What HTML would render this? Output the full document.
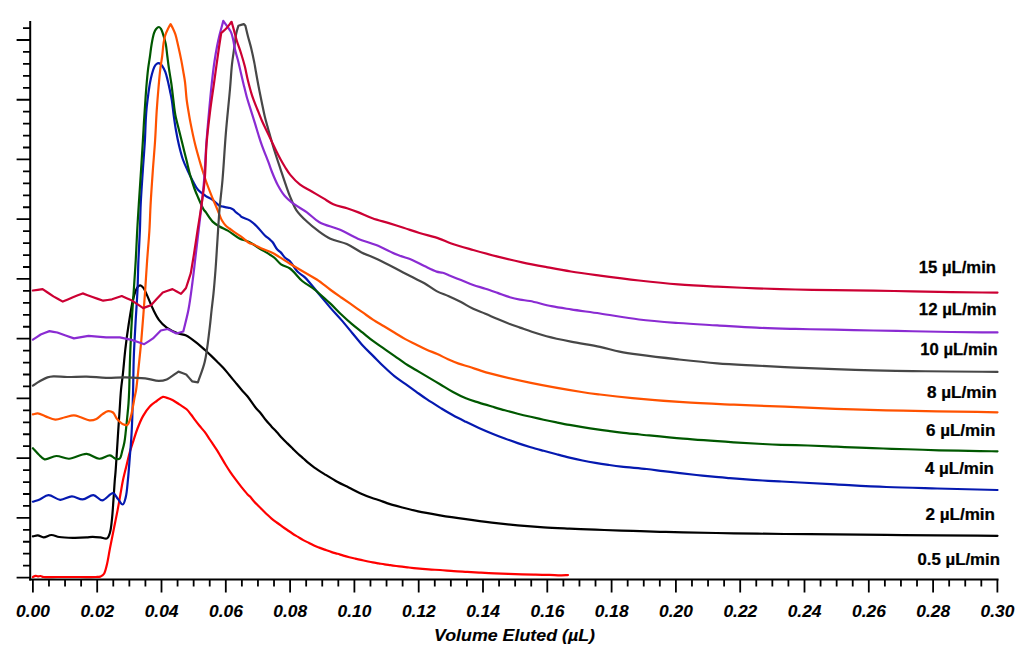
<!DOCTYPE html><html><head><meta charset="utf-8"><style>html,body{margin:0;padding:0;background:#fff;}svg{display:block;}text{font-family:"Liberation Sans",sans-serif;stroke:#000;stroke-width:0.25px;} text[font-style="italic"]{stroke-width:0.1px;}</style></head><body>
<svg width="1024" height="656" viewBox="0 0 1024 656">
<rect width="1024" height="656" fill="#fff"/>
<path d="M32.90,577.00C33.77,576.60 34.65,575.88 35.50,575.80C36.28,575.73 37.00,576.36 37.80,576.40C38.66,576.45 39.58,575.92 40.50,576.00C41.51,576.08 42.18,576.78 43.60,577.00C46.52,577.46 52.16,577.00 57.30,577.00C63.92,577.00 73.09,577.00 80.00,577.00C85.80,577.00 92.36,577.17 96.00,577.00C97.89,576.91 99.15,576.96 100.30,576.60C101.16,576.33 101.76,575.90 102.40,575.40C103.07,574.88 103.64,574.47 104.20,573.50C105.31,571.58 106.22,567.41 107.10,563.75C108.20,559.17 108.94,553.60 110.00,548.10C111.18,541.95 112.60,535.10 113.90,528.60C115.20,522.10 116.66,515.14 117.80,509.10C118.79,503.89 119.53,499.36 120.40,494.50C121.27,489.66 121.99,484.82 123.00,480.00C124.02,475.15 125.33,470.26 126.50,465.50C127.63,460.87 128.68,456.10 129.90,451.80C131.00,447.91 132.17,444.56 133.40,440.80C134.70,436.81 135.92,432.57 137.50,428.50C139.11,424.34 140.86,419.87 143.00,416.10C145.00,412.59 147.32,409.12 149.80,406.50C151.94,404.23 154.43,402.65 156.70,401.00C158.79,399.48 161.08,397.25 162.90,396.90C164.15,396.66 165.02,397.22 166.30,397.60C168.08,398.12 170.44,398.95 172.50,400.00C174.77,401.16 177.00,402.88 179.30,404.40C181.70,405.98 184.57,407.49 186.60,409.30C188.38,410.89 189.59,412.70 191.00,414.50C192.43,416.33 193.69,418.32 195.10,420.20C196.52,422.09 197.94,423.89 199.50,425.80C201.19,427.88 203.20,429.95 204.90,432.20C206.64,434.51 208.29,437.26 209.80,439.50C211.09,441.41 212.19,443.02 213.40,444.80C214.63,446.61 215.90,448.40 217.10,450.30C218.34,452.26 219.41,454.20 220.70,456.40C222.21,458.97 223.94,462.09 225.60,464.80C227.20,467.42 228.83,469.96 230.50,472.40C232.10,474.75 233.66,476.86 235.40,479.20C237.30,481.75 239.44,484.54 241.50,487.10C243.51,489.60 245.99,492.71 247.60,494.40C248.54,495.39 249.12,495.68 250.00,496.60C251.26,497.92 252.85,500.10 254.30,501.70C255.68,503.22 257.09,504.57 258.50,506.00C259.92,507.44 261.36,508.88 262.80,510.30C264.23,511.71 265.66,513.15 267.10,514.50C268.50,515.81 269.79,517.03 271.30,518.30C272.96,519.70 274.90,521.15 276.70,522.50C278.46,523.82 280.23,525.05 282.00,526.30C283.76,527.55 285.52,528.77 287.30,530.00C289.09,531.24 290.89,532.54 292.70,533.70C294.46,534.83 296.23,535.83 298.00,536.90C299.77,537.97 301.51,539.11 303.30,540.10C305.07,541.08 306.91,541.90 308.70,542.80C310.48,543.70 312.21,544.69 314.00,545.50C315.75,546.29 317.52,546.92 319.30,547.60C321.09,548.29 322.78,548.90 324.70,549.60C326.88,550.39 329.46,551.38 331.70,552.10C333.74,552.76 335.64,553.21 337.60,553.80C339.54,554.38 341.45,555.03 343.40,555.60C345.35,556.17 347.33,556.70 349.30,557.20C351.26,557.70 353.24,558.15 355.20,558.60C357.14,559.05 359.06,559.47 361.00,559.90C362.96,560.34 364.94,560.78 366.90,561.20C368.84,561.61 370.76,562.03 372.70,562.40C374.65,562.77 376.63,563.07 378.60,563.40C380.57,563.73 382.54,564.10 384.50,564.40C386.44,564.70 388.36,564.93 390.30,565.20C392.26,565.47 394.24,565.75 396.20,566.00C398.14,566.25 400.06,566.47 402.00,566.70C403.96,566.93 405.93,567.17 407.90,567.40C409.87,567.63 411.84,567.88 413.80,568.10C415.74,568.32 417.66,568.52 419.60,568.70C421.56,568.88 423.54,569.05 425.50,569.20C427.44,569.35 429.17,569.48 431.30,569.60C433.91,569.75 436.77,569.80 440.00,570.00C444.05,570.26 449.14,570.78 453.70,571.10C458.24,571.42 462.76,571.63 467.30,571.90C471.86,572.17 476.43,572.45 481.00,572.70C485.57,572.95 490.13,573.20 494.70,573.40C499.27,573.60 503.84,573.75 508.40,573.90C512.94,574.05 517.46,574.17 522.00,574.30C526.56,574.43 531.13,574.60 535.70,574.70C540.27,574.80 545.09,574.79 549.40,574.90C553.24,575.00 557.25,575.27 560.30,575.30C562.50,575.32 564.59,575.28 566.00,575.20C566.84,575.15 567.33,575.07 568.00,575.00" fill="none" stroke="#ff0000" stroke-width="2.2" stroke-linejoin="round" stroke-linecap="round"/>
<path d="M32.90,536.40C34.53,536.07 36.11,535.29 37.80,535.40C39.67,535.52 41.52,537.37 43.60,537.40C46.00,537.44 48.79,535.06 51.40,535.00C54.00,534.94 56.25,536.53 59.25,537.00C63.15,537.61 68.34,537.73 72.90,537.80C77.46,537.87 82.98,537.64 86.60,537.40C88.98,537.24 90.40,536.83 92.50,536.80C94.92,536.77 97.79,537.12 100.30,537.40C102.65,537.66 105.48,539.25 107.10,538.40C108.68,537.57 109.24,534.95 110.00,532.50C111.10,528.95 111.45,523.78 112.00,518.80C112.66,512.88 113.03,505.78 113.50,499.30C113.97,492.85 114.40,484.96 114.80,480.00C115.05,476.89 115.25,475.55 115.50,472.40C115.92,467.21 116.45,458.67 116.90,451.80C117.35,444.93 117.75,438.07 118.20,431.20C118.65,424.33 119.13,417.47 119.60,410.60C120.07,403.73 120.40,396.45 121.00,390.00C121.53,384.27 122.25,379.80 122.90,373.80C123.71,366.33 124.42,356.98 125.40,348.60C126.38,340.22 127.53,331.72 128.80,323.50C130.04,315.53 131.49,305.96 132.90,300.00C133.78,296.26 134.59,293.44 135.60,291.00C136.34,289.20 137.06,287.45 138.00,286.50C138.66,285.83 139.43,285.24 140.20,285.30C141.15,285.37 142.26,286.46 143.20,287.60C144.63,289.33 145.71,292.41 147.10,295.40C148.92,299.31 150.93,304.86 153.00,309.10C154.88,312.94 156.54,316.66 158.90,319.80C161.14,322.78 163.63,325.38 166.70,327.60C170.04,330.02 174.82,332.18 178.40,333.50C181.20,334.53 183.43,334.11 186.20,335.40C190.06,337.20 195.38,341.87 198.80,344.60C201.28,346.58 202.97,348.17 205.00,350.00C207.03,351.83 209.01,353.70 211.00,355.60C213.01,357.53 214.99,359.49 217.00,361.50C219.06,363.56 221.18,365.59 223.20,367.80C225.29,370.08 227.27,372.58 229.30,375.00C231.34,377.44 233.36,379.95 235.40,382.40C237.43,384.85 239.45,387.33 241.50,389.70C243.51,392.02 245.52,393.91 247.60,396.50C250.10,399.61 252.88,404.20 255.30,407.20C257.19,409.55 258.96,411.07 260.70,413.20C262.53,415.43 264.18,418.06 266.00,420.30C267.75,422.45 269.59,424.42 271.40,426.40C273.16,428.32 274.95,430.10 276.70,432.00C278.48,433.93 280.20,435.99 282.00,437.90C283.77,439.79 285.60,441.60 287.40,443.40C289.17,445.17 290.93,446.88 292.70,448.60C294.46,450.31 296.21,452.04 298.00,453.70C299.78,455.34 301.61,456.91 303.40,458.50C305.17,460.08 306.87,461.69 308.70,463.20C310.54,464.72 312.13,466.00 314.40,467.60C317.51,469.79 321.98,472.52 325.80,474.90C329.59,477.26 333.35,479.68 337.20,481.80C340.98,483.88 344.88,485.60 348.70,487.50C352.51,489.40 356.27,491.47 360.10,493.20C363.87,494.90 367.96,496.52 371.50,497.80C374.52,498.89 377.33,499.57 380.00,500.50C382.43,501.34 384.11,502.18 386.90,503.10C391.03,504.46 397.29,506.11 402.50,507.50C407.69,508.88 412.44,510.19 418.10,511.40C424.76,512.82 432.39,514.05 440.00,515.30C448.26,516.66 457.26,517.98 465.90,519.20C474.53,520.42 483.16,521.58 491.80,522.60C500.43,523.62 509.06,524.52 517.70,525.30C526.33,526.08 534.96,526.75 543.60,527.30C552.23,527.85 560.87,528.20 569.50,528.60C578.13,529.00 586.77,529.37 595.40,529.70C604.03,530.03 613.37,530.33 621.30,530.60C628.04,530.83 633.66,531.00 640.00,531.20C646.55,531.40 653.09,531.61 660.00,531.80C667.42,532.01 673.90,532.20 683.10,532.40C696.74,532.70 716.97,533.03 733.90,533.30C750.83,533.57 767.77,533.82 784.70,534.00C801.63,534.18 818.57,534.25 835.50,534.40C852.43,534.55 869.37,534.75 886.30,534.90C903.23,535.05 919.43,535.16 937.10,535.30C956.36,535.46 977.37,535.63 997.50,535.80" fill="none" stroke="#000000" stroke-width="2.2" stroke-linejoin="round" stroke-linecap="round"/>
<path d="M32.90,501.70C35.17,500.93 37.32,500.38 39.70,499.40C42.48,498.26 45.33,495.21 48.50,495.10C52.10,494.97 56.27,499.60 60.20,499.80C64.07,499.99 68.07,496.42 71.90,496.40C75.57,496.38 79.14,499.60 82.70,499.40C86.31,499.20 90.07,494.83 93.40,495.10C96.54,495.35 99.14,500.47 102.20,500.40C105.64,500.32 110.24,492.82 113.00,493.20C115.08,493.49 116.19,496.93 117.80,498.80C119.42,500.69 121.39,504.71 122.70,504.50C124.03,504.29 124.90,500.36 125.70,497.40C126.90,492.94 127.24,486.28 127.90,480.00C128.67,472.63 129.30,463.33 129.90,455.90C130.42,449.52 130.91,444.25 131.30,438.10C131.72,431.49 132.01,424.86 132.30,417.50C132.63,409.00 132.86,399.58 133.10,390.00C133.36,379.50 133.40,368.04 133.80,357.00C134.20,345.87 134.88,334.67 135.50,323.50C136.12,312.33 137.01,300.78 137.50,290.00C137.95,279.96 138.01,270.70 138.40,260.90C138.80,250.88 139.51,240.25 139.90,230.50C140.26,221.47 140.27,213.64 140.70,204.40C141.19,193.93 142.08,181.79 142.80,170.90C143.48,160.52 144.39,149.71 144.90,140.50C145.33,132.83 145.45,125.47 145.80,119.40C146.07,114.78 146.30,111.26 146.70,107.20C147.10,103.13 147.65,99.06 148.20,95.00C148.75,90.93 149.32,86.49 150.00,82.80C150.57,79.70 151.15,77.01 151.90,74.30C152.60,71.76 153.35,68.85 154.30,67.00C154.96,65.72 155.68,64.65 156.50,64.00C157.14,63.49 157.92,63.09 158.60,63.10C159.25,63.11 159.92,63.58 160.50,64.00C161.13,64.46 161.61,64.97 162.20,65.80C163.18,67.19 164.42,69.65 165.30,71.90C166.30,74.46 166.94,77.37 167.70,80.40C168.55,83.82 169.38,87.96 170.10,91.40C170.73,94.44 171.27,96.71 171.80,100.00C172.50,104.36 173.00,110.21 173.70,115.30C174.40,120.38 175.10,125.44 176.00,130.50C176.90,135.60 177.92,140.86 179.10,145.80C180.23,150.51 181.41,155.26 182.90,159.50C184.25,163.34 185.86,166.66 187.50,170.20C189.16,173.79 190.96,177.50 192.80,180.90C194.54,184.11 195.98,187.57 198.20,190.10C200.27,192.46 203.02,194.15 205.50,195.80C207.83,197.35 210.32,198.21 212.60,199.80C215.00,201.48 217.55,204.69 219.50,205.70C220.66,206.30 221.43,206.21 222.60,206.50C224.11,206.87 226.41,207.45 227.80,207.70C228.72,207.87 229.29,207.75 230.10,208.00C231.13,208.32 232.46,209.00 233.40,209.70C234.27,210.35 234.71,211.22 235.60,212.00C236.72,212.98 238.64,214.07 239.70,215.00C240.46,215.67 240.59,216.26 241.50,216.90C243.22,218.11 247.41,218.97 250.00,220.60C252.61,222.24 254.76,224.39 257.10,226.70C259.73,229.29 262.48,233.20 264.90,235.50C266.70,237.22 268.60,238.34 270.00,239.60C271.07,240.56 271.75,241.11 272.70,242.30C274.12,244.08 275.75,247.89 277.30,249.60C278.36,250.77 279.38,251.01 280.50,252.10C282.04,253.59 283.68,256.42 285.40,258.00C286.87,259.35 288.43,259.64 290.00,261.20C292.37,263.55 294.73,268.83 297.40,271.60C299.65,273.93 301.91,274.54 304.60,277.10C308.97,281.25 315.34,289.76 320.00,295.30C323.90,299.93 327.10,303.95 330.70,308.10C334.21,312.15 337.79,315.85 341.30,319.90C344.90,324.05 348.43,328.43 352.00,332.70C355.57,336.97 359.05,341.51 362.70,345.50C366.16,349.28 369.76,352.56 373.30,356.10C376.86,359.66 380.39,363.38 384.00,366.80C387.52,370.14 391.06,373.49 394.70,376.40C398.16,379.16 401.76,381.38 405.30,383.90C408.86,386.44 412.43,389.05 416.00,391.60C419.56,394.15 422.90,396.66 426.70,399.20C430.86,401.99 435.57,404.89 440.00,407.60C444.34,410.25 448.63,412.91 453.00,415.30C457.27,417.64 461.58,419.70 465.90,421.80C470.21,423.90 474.56,425.96 478.90,427.90C483.19,429.82 487.48,431.63 491.80,433.40C496.11,435.16 500.46,436.88 504.80,438.50C509.10,440.11 513.38,441.65 517.70,443.10C522.01,444.55 526.36,445.91 530.70,447.20C535.00,448.48 539.29,449.62 543.60,450.80C547.92,451.98 552.27,453.16 556.60,454.30C560.90,455.43 565.18,456.57 569.50,457.60C573.82,458.63 578.17,459.61 582.50,460.50C586.80,461.38 591.09,462.17 595.40,462.90C599.72,463.63 604.07,464.28 608.40,464.90C612.70,465.51 616.28,466.03 621.30,466.60C628.32,467.40 639.06,468.17 646.60,469.00C652.72,469.68 657.67,470.42 663.20,471.10C668.73,471.78 674.27,472.45 679.80,473.10C685.33,473.75 690.86,474.40 696.40,475.00C701.93,475.60 707.46,476.18 713.00,476.70C718.53,477.22 724.07,477.65 729.60,478.10C735.13,478.55 740.67,479.00 746.20,479.40C751.73,479.80 757.27,480.17 762.80,480.50C768.33,480.83 773.57,481.09 779.40,481.40C785.90,481.75 792.20,482.08 800.00,482.50C810.23,483.05 822.61,483.73 835.50,484.40C850.92,485.21 869.36,486.32 886.30,487.00C903.23,487.68 919.43,488.02 937.10,488.50C956.36,489.02 977.37,489.50 997.50,490.00" fill="none" stroke="#0519b0" stroke-width="2.2" stroke-linejoin="round" stroke-linecap="round"/>
<path d="M32.90,448.20C34.83,450.30 36.69,452.61 38.70,454.50C40.60,456.28 42.14,458.79 44.60,459.30C47.71,459.94 52.30,456.12 56.30,456.00C60.43,455.87 64.44,458.88 69.00,458.75C74.41,458.60 81.25,453.64 86.60,453.90C91.22,454.12 95.23,458.62 99.30,458.75C103.00,458.86 107.08,455.05 110.00,455.40C112.21,455.66 113.74,458.21 115.50,458.70C116.91,459.09 118.53,459.47 119.60,458.70C121.17,457.58 121.59,453.18 122.40,450.40C123.19,447.68 123.85,445.15 124.40,442.20C125.03,438.82 125.36,435.07 125.80,431.20C126.29,426.89 126.75,422.08 127.20,417.50C127.65,412.91 128.17,408.30 128.50,403.70C128.83,399.13 129.02,394.76 129.20,390.00C129.40,384.83 129.43,379.79 129.60,373.80C129.81,366.32 130.03,357.59 130.40,348.60C130.83,338.22 131.49,325.46 132.10,315.10C132.63,306.13 133.22,298.68 133.80,290.00C134.42,280.66 135.14,270.71 135.70,260.90C136.27,250.88 136.66,240.25 137.20,230.50C137.70,221.47 138.21,213.64 138.80,204.40C139.46,193.93 140.30,181.80 141.00,170.90C141.67,160.52 142.38,149.23 142.90,140.50C143.30,133.90 143.54,128.97 143.90,123.10C144.27,117.08 144.68,110.90 145.10,104.80C145.52,98.70 145.88,92.60 146.40,86.50C146.92,80.40 147.53,73.68 148.20,68.20C148.75,63.72 149.44,59.96 150.00,56.00C150.53,52.24 150.85,48.72 151.50,45.00C152.17,41.12 153.00,36.12 154.00,33.20C154.63,31.36 155.16,29.96 156.10,28.90C156.90,28.00 158.15,26.92 159.00,27.00C159.76,27.07 160.41,28.02 161.00,28.90C161.86,30.18 162.41,32.22 163.10,34.30C164.00,37.02 165.06,40.49 165.75,43.90C166.51,47.68 166.78,51.96 167.30,56.00C167.83,60.06 168.27,63.88 168.90,68.20C169.61,73.13 170.67,78.82 171.40,84.00C172.10,88.98 172.57,93.69 173.20,98.70C173.86,103.95 174.31,109.49 175.30,114.80C176.28,120.09 177.83,125.30 179.10,130.50C180.36,135.63 181.63,140.70 182.90,145.80C184.17,150.90 185.43,156.01 186.70,161.10C187.96,166.18 189.14,171.53 190.50,176.30C191.73,180.61 193.03,184.75 194.40,188.50C195.61,191.81 196.78,194.44 198.20,197.70C199.83,201.45 202.23,207.39 203.70,209.70C204.38,210.76 204.73,210.82 205.50,211.80C207.11,213.85 210.02,219.05 212.60,221.60C214.75,223.73 217.03,225.03 219.50,226.50C222.08,228.04 224.86,228.90 227.80,230.60C231.41,232.69 235.58,236.45 239.40,238.40C242.70,240.09 246.00,240.43 249.20,242.00C252.58,243.66 255.68,246.10 259.10,248.20C262.73,250.43 267.55,253.15 270.40,255.00C272.20,256.17 273.19,256.73 274.70,258.00C276.67,259.65 278.54,262.58 281.00,264.30C283.60,266.12 286.97,266.35 290.00,268.50C294.02,271.35 297.95,277.44 302.20,281.00C306.11,284.28 311.18,286.78 314.40,289.30C316.70,291.09 317.84,292.36 320.00,294.30C323.00,296.98 327.19,300.57 330.70,303.90C334.29,307.30 337.71,311.10 341.30,314.50C344.81,317.83 348.39,321.03 352.00,324.10C355.53,327.10 359.14,329.84 362.70,332.70C366.24,335.54 369.71,338.51 373.30,341.20C376.82,343.84 380.43,346.21 384.00,348.70C387.56,351.18 391.15,353.62 394.70,356.10C398.25,358.58 401.71,361.26 405.30,363.60C408.82,365.89 412.43,367.87 416.00,370.00C419.57,372.13 422.93,374.17 426.70,376.40C430.89,378.88 435.60,381.59 440.00,384.20C444.36,386.79 448.62,389.62 453.00,392.00C457.26,394.31 461.53,396.52 465.90,398.30C470.17,400.04 474.57,401.23 478.90,402.60C483.20,403.96 487.49,405.22 491.80,406.50C496.12,407.78 500.47,409.10 504.80,410.30C509.10,411.49 513.39,412.62 517.70,413.70C522.02,414.78 526.37,415.80 530.70,416.80C535.01,417.80 539.29,418.77 543.60,419.70C547.92,420.63 552.27,421.53 556.60,422.40C560.91,423.26 565.19,424.12 569.50,424.90C573.82,425.68 578.17,426.40 582.50,427.10C586.81,427.80 591.09,428.47 595.40,429.10C599.72,429.73 604.07,430.32 608.40,430.90C612.71,431.48 616.60,432.05 621.30,432.60C626.95,433.26 632.48,433.75 640.00,434.50C651.41,435.64 668.13,437.44 683.10,438.70C699.33,440.07 719.34,441.36 733.90,442.30C744.88,443.01 754.27,443.56 762.80,444.00C769.56,444.35 774.34,444.57 781.00,444.80C789.09,445.08 799.44,445.23 807.90,445.50C815.47,445.74 822.88,446.00 829.40,446.30C834.85,446.55 838.62,446.84 844.40,447.10C852.29,447.45 863.93,447.80 872.40,448.10C879.43,448.35 884.94,448.58 891.70,448.80C899.17,449.05 907.43,449.25 915.30,449.50C923.19,449.75 930.03,450.06 939.00,450.30C950.76,450.61 969.00,450.93 979.80,451.10C986.91,451.21 991.60,451.23 997.50,451.30" fill="none" stroke="#005800" stroke-width="2.2" stroke-linejoin="round" stroke-linecap="round"/>
<path d="M32.90,414.40C34.53,414.07 36.00,413.25 37.80,413.40C40.12,413.59 42.85,415.40 45.60,416.40C48.65,417.50 52.04,419.56 55.30,419.70C58.54,419.84 61.92,418.03 65.10,417.30C68.11,416.61 71.16,415.32 73.90,415.40C76.32,415.47 78.30,416.56 80.70,417.30C83.46,418.15 86.72,420.12 89.50,420.30C91.92,420.46 94.30,419.86 96.40,418.90C98.54,417.92 100.21,415.72 102.20,414.40C104.11,413.13 106.18,411.32 108.10,411.10C109.77,410.91 111.62,411.46 113.00,412.50C114.67,413.76 115.58,417.11 116.90,418.80C117.92,420.11 118.94,421.06 120.00,422.00C120.98,422.87 121.85,423.80 123.00,424.30C124.23,424.83 126.04,425.62 127.20,425.00C128.81,424.14 129.70,420.21 130.60,417.50C131.58,414.54 132.04,411.21 132.70,407.90C133.41,404.36 134.08,400.14 134.70,396.90C135.19,394.33 135.63,393.02 136.10,390.00C136.98,384.34 137.94,373.64 138.80,365.40C139.67,357.08 140.44,350.05 141.30,340.30C142.51,326.70 144.07,305.79 145.10,291.40C145.91,280.04 146.38,271.06 147.10,260.90C147.82,250.76 148.81,240.25 149.40,230.50C149.95,221.47 150.08,213.64 150.60,204.40C151.18,193.93 152.03,181.79 152.80,170.90C153.53,160.52 154.45,150.57 155.10,140.50C155.74,130.57 156.08,120.29 156.70,110.90C157.26,102.37 157.94,94.05 158.60,86.50C159.18,79.96 159.73,73.68 160.40,68.20C160.95,63.72 161.67,60.15 162.20,56.00C162.75,51.69 163.00,46.57 163.60,42.80C164.06,39.94 164.46,37.67 165.20,35.30C165.91,33.05 166.94,30.86 167.90,28.90C168.75,27.16 169.70,25.70 170.60,24.10L170.60,24.10C171.30,25.37 171.99,26.45 172.70,27.90C173.59,29.74 174.59,31.86 175.40,34.30C176.42,37.38 177.11,41.13 178.00,45.00C179.04,49.55 180.29,55.29 181.20,59.90C181.98,63.86 182.56,67.31 183.20,71.00C183.83,74.67 184.47,77.87 185.00,82.00C185.68,87.25 186.03,94.68 186.70,100.00C187.24,104.27 187.87,107.68 188.50,111.50C189.13,115.31 189.64,118.52 190.50,122.90C191.68,128.93 193.47,137.62 195.10,144.30C196.56,150.26 198.26,156.11 199.70,161.10C200.86,165.13 201.88,168.45 203.00,172.00C204.08,175.41 205.02,178.42 206.30,182.00C207.82,186.25 209.74,191.21 211.60,195.80C213.48,200.44 215.67,205.36 217.50,209.70C219.11,213.52 220.36,217.63 222.00,220.50C223.22,222.64 224.54,224.30 225.90,225.70C227.03,226.86 228.16,227.56 229.40,228.50C230.75,229.52 232.16,230.53 233.70,231.60C235.44,232.81 237.59,234.19 239.30,235.40C240.78,236.45 241.93,237.28 243.40,238.40C245.18,239.75 247.36,242.01 249.20,243.00C250.59,243.74 251.60,243.65 253.20,244.30C255.78,245.34 259.71,247.64 263.00,249.10C266.22,250.53 269.85,251.57 272.70,253.00C275.11,254.21 276.69,255.41 279.10,256.90C282.26,258.85 286.25,261.41 290.00,263.70C293.94,266.11 297.94,268.49 302.20,271.00C306.84,273.74 312.08,276.36 316.80,279.50C321.59,282.69 326.36,286.82 330.70,290.00C334.45,292.74 337.75,295.02 341.30,297.50C344.85,299.98 348.44,302.42 352.00,304.90C355.57,307.39 359.14,309.90 362.70,312.40C366.24,314.90 369.71,317.56 373.30,319.90C376.82,322.19 380.43,324.17 384.00,326.30C387.57,328.43 391.14,330.56 394.70,332.70C398.24,334.83 401.72,337.14 405.30,339.10C408.82,341.03 412.43,342.63 416.00,344.40C419.57,346.17 423.11,348.09 426.70,349.70C430.21,351.28 433.79,352.42 437.30,354.00C440.89,355.61 444.40,357.69 448.00,359.30C451.54,360.88 455.11,362.34 458.70,363.60C462.21,364.83 465.77,365.67 469.30,366.80C472.87,367.94 476.48,369.28 480.00,370.40C483.38,371.48 485.52,372.21 490.00,373.40C498.98,375.79 516.42,379.94 530.80,382.90C546.77,386.19 568.86,389.99 581.60,392.00C589.24,393.20 593.00,393.64 600.00,394.50C609.28,395.65 620.39,396.95 632.40,398.10C647.41,399.54 666.18,401.10 683.10,402.20C700.02,403.30 716.96,403.95 733.90,404.70C750.83,405.45 767.77,406.02 784.70,406.70C801.63,407.38 818.56,408.20 835.50,408.80C852.43,409.40 869.37,409.88 886.30,410.30C903.23,410.72 919.43,410.98 937.10,411.30C956.36,411.65 977.37,411.97 997.50,412.30" fill="none" stroke="#ff5200" stroke-width="2.2" stroke-linejoin="round" stroke-linecap="round"/>
<path d="M32.90,385.60C35.17,384.17 37.32,382.64 39.70,381.30C42.18,379.90 45.02,378.21 47.50,377.40C49.55,376.73 51.02,376.55 53.40,376.40C57.01,376.18 62.13,376.94 67.10,377.00C73.03,377.07 80.10,376.47 86.60,376.60C93.10,376.73 99.59,377.67 106.10,377.80C112.62,377.93 119.18,377.30 125.70,377.40C132.21,377.50 139.29,377.71 145.20,378.40C150.19,378.98 154.97,380.92 158.90,380.90C161.87,380.89 163.96,380.52 166.70,379.40C170.35,377.90 174.50,374.20 178.40,371.60L178.40,371.60C181.00,372.57 183.60,373.53 186.20,374.50L186.20,374.50C188.17,376.77 190.13,379.03 192.10,381.30L192.10,381.30C194.03,381.63 195.97,381.97 197.90,382.30L197.90,382.30C200.18,375.47 202.91,369.55 204.75,361.80C207.05,352.15 208.40,338.08 209.60,328.60C210.50,321.52 210.93,316.02 211.60,310.00C212.23,304.31 212.90,299.41 213.50,293.40C214.21,286.27 214.87,278.33 215.50,270.00C216.22,260.49 216.83,249.52 217.50,239.40C218.16,229.43 218.67,219.59 219.50,209.70C220.33,199.79 221.54,191.05 222.50,180.00C223.70,166.07 224.62,148.15 225.90,132.70C227.13,117.84 228.91,101.52 230.00,89.00C230.82,79.57 231.20,71.55 232.00,64.20C232.65,58.27 233.47,53.45 234.20,48.20C234.91,43.12 235.44,37.32 236.30,33.20C236.92,30.25 237.70,28.20 238.40,25.70L238.40,25.70C240.20,25.17 242.00,24.63 243.80,24.10L243.80,24.10C244.33,24.63 244.87,25.17 245.40,25.70L245.40,25.70C246.27,29.27 247.06,32.75 248.00,36.40C248.99,40.24 250.19,44.02 251.20,48.20C252.33,52.86 253.62,59.07 254.40,63.10C254.93,65.83 255.11,67.22 255.60,70.00C256.35,74.23 257.48,80.67 258.50,86.00C259.52,91.34 260.62,96.76 261.70,102.00C262.75,107.08 263.76,112.33 264.90,117.00C265.91,121.16 267.07,124.99 268.10,128.70C269.03,132.06 269.81,134.85 270.80,138.30C271.97,142.35 273.23,146.80 274.70,151.50C276.41,156.96 278.55,163.25 280.50,169.10C282.45,174.94 284.63,181.59 286.40,186.60C287.75,190.41 288.61,193.04 290.10,196.60C291.87,200.84 293.74,206.17 296.50,210.30C299.25,214.40 303.04,217.92 306.60,221.30C310.08,224.61 313.71,227.54 317.60,230.40C321.62,233.35 325.71,236.45 330.40,238.70C335.39,241.09 341.59,241.80 346.80,244.10C351.95,246.38 356.39,249.87 361.50,252.40C366.77,255.01 372.15,256.76 378.00,259.50C384.86,262.72 393.75,267.47 400.00,270.70C404.67,273.11 408.12,275.01 412.20,277.10C416.26,279.18 420.40,280.91 424.40,283.20C428.53,285.56 432.44,288.89 436.60,291.10C440.58,293.22 444.75,294.48 448.80,296.30C452.89,298.14 456.96,300.03 461.00,302.10C465.10,304.20 469.07,306.85 473.20,308.80C477.21,310.70 481.35,311.99 485.40,313.70C489.48,315.42 493.52,317.38 497.60,319.10C501.65,320.81 505.90,322.53 509.80,324.00C513.34,325.33 516.48,326.35 520.00,327.60C523.79,328.94 527.63,330.44 531.80,331.80C536.41,333.31 540.95,334.76 546.50,336.20C553.58,338.04 562.39,339.88 570.90,341.60C580.16,343.47 591.29,345.06 600.00,346.90C607.17,348.42 612.97,350.30 619.50,351.60C625.97,352.89 631.37,353.64 639.00,354.70C649.78,356.20 665.06,357.97 678.10,359.40C691.13,360.83 704.16,362.27 717.20,363.30C730.21,364.33 743.23,364.88 756.25,365.60C769.27,366.32 782.28,367.02 795.30,367.60C808.33,368.18 821.37,368.65 834.40,369.10C847.41,369.55 860.39,369.97 873.40,370.30C886.42,370.63 899.47,370.90 912.50,371.10C925.53,371.30 938.04,371.37 951.60,371.50C966.29,371.64 982.20,371.77 997.50,371.90" fill="none" stroke="#474747" stroke-width="2.2" stroke-linejoin="round" stroke-linecap="round"/>
<path d="M32.90,339.70C35.50,337.97 38.10,336.23 40.70,334.50L40.70,334.50C43.63,333.37 46.57,332.23 49.50,331.10L49.50,331.10C52.10,331.57 54.70,332.03 57.30,332.50L57.30,332.50C62.83,334.47 68.37,336.43 73.90,338.40L73.90,338.40C78.77,337.53 83.63,336.67 88.50,335.80L88.50,335.80C94.37,336.33 100.23,336.87 106.10,337.40L106.10,337.40C110.67,337.40 115.23,337.40 119.80,337.40L119.80,337.40C123.70,338.23 127.60,339.07 131.50,339.90L131.50,339.90C135.73,341.33 139.97,342.77 144.20,344.20L144.20,344.20C147.13,342.27 150.07,340.33 153.00,338.40L153.00,338.40C155.60,335.77 158.20,333.13 160.80,330.50L160.80,330.50C163.07,330.00 165.33,329.50 167.60,329.00L167.60,329.00C170.53,330.50 173.47,332.00 176.40,333.50L176.40,333.50C178.70,332.83 181.00,332.17 183.30,331.50L183.30,331.50C185.03,324.17 187.02,317.28 188.50,309.50C190.14,300.88 191.29,291.12 192.50,282.00C193.69,273.02 194.66,264.04 195.70,255.20C196.72,246.54 197.70,238.07 198.70,229.50C199.70,220.93 200.79,212.21 201.70,203.80C202.58,195.72 203.38,188.81 204.10,180.00C204.99,169.03 205.54,154.78 206.40,143.00C207.19,132.21 208.09,122.07 209.00,112.00C209.86,102.43 210.74,92.77 211.70,84.00C212.55,76.22 213.42,68.74 214.40,62.00C215.24,56.23 216.14,50.91 217.10,46.00C217.92,41.78 218.71,38.32 219.70,34.30C220.76,29.97 222.10,25.37 223.30,20.90L223.30,20.90C224.43,22.50 225.51,23.98 226.70,25.70C228.06,27.67 229.93,29.79 231.00,32.10C232.07,34.42 232.45,36.86 233.10,39.60C233.87,42.84 234.35,46.67 235.20,50.30C236.10,54.13 237.42,58.08 238.40,62.00C239.38,65.91 240.22,70.02 241.10,73.80C241.92,77.30 242.63,80.34 243.50,83.90C244.48,87.92 245.49,92.36 246.70,96.70C247.97,101.26 249.56,105.98 251.00,110.60C252.43,115.21 253.98,120.10 255.30,124.40C256.45,128.16 257.39,131.47 258.50,135.00C259.62,138.54 260.58,141.64 262.00,145.60C263.84,150.75 266.97,158.33 268.80,163.20C270.09,166.63 270.72,168.82 272.00,172.00C273.55,175.87 275.46,180.70 277.60,184.70C279.68,188.58 281.85,192.47 284.60,195.70C287.27,198.84 290.37,201.30 293.80,203.90C297.61,206.79 302.41,209.11 306.60,212.10C310.94,215.19 314.40,219.41 319.40,222.20C325.13,225.39 333.04,226.71 339.50,229.50C345.83,232.23 351.61,236.08 357.80,238.70C363.82,241.25 369.79,242.56 376.10,245.10C383.14,247.93 391.43,252.47 398.00,255.10C403.19,257.17 407.71,258.11 412.20,260.00C416.48,261.80 420.31,264.16 424.40,266.10C428.45,268.02 433.18,270.51 436.60,271.60C438.93,272.34 440.69,272.21 442.70,272.80C444.76,273.40 446.42,274.25 448.80,275.20C452.17,276.54 456.93,278.47 461.00,280.10C465.07,281.73 469.10,283.56 473.20,285.00C477.24,286.42 481.35,287.39 485.40,288.70C489.48,290.02 493.54,291.48 497.60,292.90C501.67,294.32 505.89,296.05 509.80,297.20C513.32,298.23 516.60,298.96 520.00,299.60C523.34,300.22 526.06,300.25 530.00,301.00C535.82,302.11 544.41,304.78 551.40,306.20C558.03,307.55 563.74,308.31 570.90,309.40C579.63,310.73 589.60,311.97 600.00,313.50C612.06,315.28 625.97,317.92 639.00,319.50C652.00,321.08 665.06,322.02 678.10,323.00C691.13,323.98 704.17,324.62 717.20,325.40C730.22,326.18 743.23,327.12 756.25,327.70C769.26,328.28 782.28,328.57 795.30,328.90C808.33,329.23 821.38,329.43 834.40,329.70C847.41,329.97 860.39,330.24 873.40,330.50C886.42,330.76 899.47,331.00 912.50,331.25C925.53,331.50 938.04,331.81 951.60,332.00C966.29,332.20 982.20,332.27 997.50,332.40" fill="none" stroke="#8a2bd2" stroke-width="2.2" stroke-linejoin="round" stroke-linecap="round"/>
<path d="M32.90,290.50C36.13,290.03 39.37,289.57 42.60,289.10L42.60,289.10C46.20,291.53 49.80,293.97 53.40,296.40L53.40,296.40C56.53,298.13 59.67,299.87 62.80,301.60L62.80,301.60C66.17,300.17 69.53,298.73 72.90,297.30L72.90,297.30C76.17,296.00 79.43,294.70 82.70,293.40L82.70,293.40C85.97,294.60 89.23,295.80 92.50,297.00L92.50,297.00C96.07,298.23 99.63,299.47 103.20,300.70L103.20,300.70C106.13,300.23 109.07,299.77 112.00,299.30L112.00,299.30C115.25,298.20 118.50,297.10 121.75,296.00L121.75,296.00C125.00,297.43 128.25,298.87 131.50,300.30L131.50,300.30C135.40,302.90 139.30,305.50 143.20,308.10L143.20,308.10C145.80,307.13 148.40,306.17 151.00,305.20L151.00,305.20C154.93,300.97 158.87,296.73 162.80,292.50L162.80,292.50C166.03,291.37 169.27,290.23 172.50,289.10L172.50,289.10C175.33,290.70 178.17,292.30 181.00,293.90L181.00,293.90C182.67,291.93 184.33,289.97 186.00,288.00L186.00,288.00C187.60,283.03 189.20,278.07 190.80,273.10L190.80,273.10C191.80,267.13 192.76,261.71 193.80,255.20C195.04,247.41 196.38,238.07 197.70,229.50C199.02,220.93 200.52,212.21 201.70,203.80C202.84,195.72 203.92,188.80 204.70,180.00C205.67,169.12 205.66,155.12 206.60,143.40C207.47,132.52 208.74,122.16 210.00,112.00C211.19,102.39 212.73,92.41 213.90,84.00C214.86,77.11 215.62,71.50 216.50,65.20C217.39,58.83 218.35,51.78 219.20,46.00C219.90,41.24 220.53,37.33 221.20,33.00L221.20,33.00C223.03,31.30 224.98,29.74 226.70,27.90C228.45,26.02 229.97,23.83 231.60,21.80L231.60,21.80C232.47,24.90 233.34,27.97 234.20,31.10C235.07,34.27 235.77,37.29 236.80,40.70C238.01,44.68 239.76,49.22 241.10,53.50C242.43,57.75 243.69,61.94 244.80,66.30C245.93,70.77 246.64,75.30 247.80,80.00C249.05,85.05 250.46,90.59 252.10,95.60C253.67,100.41 255.71,105.18 257.40,109.50C258.89,113.31 260.18,116.69 261.70,120.20C263.21,123.69 264.88,127.05 266.50,130.50C268.14,133.99 269.88,137.59 271.50,141.00C273.04,144.25 274.48,147.41 276.00,150.50C277.48,153.50 278.96,156.49 280.50,159.30C281.96,161.97 283.40,164.44 285.00,167.00C286.66,169.64 288.11,172.23 290.30,174.90C292.95,178.12 296.49,181.92 300.10,184.70C303.67,187.44 307.90,189.22 311.80,191.50C315.70,193.79 319.77,196.20 323.50,198.40C326.91,200.42 329.65,202.60 333.30,204.20C337.39,205.99 342.72,206.91 347.00,208.30C350.83,209.55 353.95,210.62 357.80,212.10C362.32,213.84 367.33,216.40 372.40,218.20C377.68,220.08 383.57,221.47 388.90,223.10C393.92,224.64 398.53,226.09 403.50,227.70C408.72,229.39 413.88,231.27 419.50,233.00C425.68,234.91 433.38,236.64 439.10,238.60C443.69,240.17 446.60,241.86 451.30,243.50C457.50,245.66 465.68,247.87 473.20,250.00C481.12,252.24 489.52,254.54 497.70,256.60C505.82,258.64 513.95,260.55 522.10,262.30C530.22,264.05 538.36,265.57 546.50,267.10C554.63,268.63 562.39,270.13 570.90,271.50C580.16,272.99 589.59,274.21 600.00,275.60C612.04,277.21 625.98,279.03 639.00,280.50C652.02,281.97 665.06,283.37 678.10,284.40C691.12,285.43 704.17,286.05 717.20,286.70C730.22,287.35 743.23,287.83 756.25,288.30C769.27,288.77 782.28,289.18 795.30,289.50C808.33,289.82 821.37,290.02 834.40,290.20C847.41,290.38 860.39,290.40 873.40,290.60C886.43,290.80 899.47,291.13 912.50,291.40C925.53,291.67 938.04,292.00 951.60,292.20C966.29,292.41 982.20,292.47 997.50,292.60" fill="none" stroke="#cc0033" stroke-width="2.2" stroke-linejoin="round" stroke-linecap="round"/>
<line x1="30.2" y1="21" x2="30.2" y2="580.4" stroke="#000" stroke-width="2"/>
<line x1="29.2" y1="579.4" x2="998.5" y2="579.4" stroke="#000" stroke-width="2"/>
<path d="M23 28.05H30.2 M16.6 40.00H30.2 M23 51.95H30.2 M23 63.89H30.2 M23 75.84H30.2 M23 87.79H30.2 M16.6 99.73H30.2 M23 111.68H30.2 M23 123.63H30.2 M23 135.58H30.2 M23 147.52H30.2 M16.6 159.47H30.2 M23 171.42H30.2 M23 183.36H30.2 M23 195.31H30.2 M23 207.26H30.2 M16.6 219.20H30.2 M23 231.15H30.2 M23 243.10H30.2 M23 255.05H30.2 M23 266.99H30.2 M16.6 278.94H30.2 M23 290.89H30.2 M23 302.83H30.2 M23 314.78H30.2 M23 326.73H30.2 M16.6 338.67H30.2 M23 350.62H30.2 M23 362.57H30.2 M23 374.52H30.2 M23 386.46H30.2 M16.6 398.41H30.2 M23 410.36H30.2 M23 422.30H30.2 M23 434.25H30.2 M23 446.20H30.2 M16.6 458.14H30.2 M23 470.09H30.2 M23 482.04H30.2 M23 493.99H30.2 M23 505.93H30.2 M16.6 517.88H30.2 M23 529.83H30.2 M23 541.77H30.2 M23 553.72H30.2 M23 565.67H30.2 M16.6 577.62H30.2 M32.90 579.4V592.4 M48.97 579.4V586.4 M65.05 579.4V586.4 M81.12 579.4V586.4 M97.20 579.4V592.4 M113.28 579.4V586.4 M129.35 579.4V586.4 M145.42 579.4V586.4 M161.50 579.4V592.4 M177.57 579.4V586.4 M193.65 579.4V586.4 M209.72 579.4V586.4 M225.80 579.4V592.4 M241.88 579.4V586.4 M257.95 579.4V586.4 M274.02 579.4V586.4 M290.10 579.4V592.4 M306.17 579.4V586.4 M322.25 579.4V586.4 M338.32 579.4V586.4 M354.40 579.4V592.4 M370.47 579.4V586.4 M386.55 579.4V586.4 M402.62 579.4V586.4 M418.70 579.4V592.4 M434.77 579.4V586.4 M450.85 579.4V586.4 M466.92 579.4V586.4 M483.00 579.4V592.4 M499.07 579.4V586.4 M515.15 579.4V586.4 M531.23 579.4V586.4 M547.30 579.4V592.4 M563.38 579.4V586.4 M579.45 579.4V586.4 M595.52 579.4V586.4 M611.60 579.4V592.4 M627.67 579.4V586.4 M643.75 579.4V586.4 M659.82 579.4V586.4 M675.90 579.4V592.4 M691.97 579.4V586.4 M708.05 579.4V586.4 M724.12 579.4V586.4 M740.20 579.4V592.4 M756.27 579.4V586.4 M772.35 579.4V586.4 M788.42 579.4V586.4 M804.50 579.4V592.4 M820.57 579.4V586.4 M836.65 579.4V586.4 M852.72 579.4V586.4 M868.80 579.4V592.4 M884.87 579.4V586.4 M900.95 579.4V586.4 M917.02 579.4V586.4 M933.10 579.4V592.4 M949.17 579.4V586.4 M965.25 579.4V586.4 M981.32 579.4V586.4 M997.40 579.4V592.4" stroke="#000" stroke-width="1.8" fill="none"/>
<text x="16.10" y="616.6" font-size="17.4" font-weight="bold" font-style="italic">0.00</text>
<text x="80.40" y="616.6" font-size="17.4" font-weight="bold" font-style="italic">0.02</text>
<text x="144.70" y="616.6" font-size="17.4" font-weight="bold" font-style="italic">0.04</text>
<text x="209.00" y="616.6" font-size="17.4" font-weight="bold" font-style="italic">0.06</text>
<text x="273.30" y="616.6" font-size="17.4" font-weight="bold" font-style="italic">0.08</text>
<text x="337.60" y="616.6" font-size="17.4" font-weight="bold" font-style="italic">0.10</text>
<text x="401.90" y="616.6" font-size="17.4" font-weight="bold" font-style="italic">0.12</text>
<text x="466.20" y="616.6" font-size="17.4" font-weight="bold" font-style="italic">0.14</text>
<text x="530.50" y="616.6" font-size="17.4" font-weight="bold" font-style="italic">0.16</text>
<text x="594.80" y="616.6" font-size="17.4" font-weight="bold" font-style="italic">0.18</text>
<text x="659.10" y="616.6" font-size="17.4" font-weight="bold" font-style="italic">0.20</text>
<text x="723.40" y="616.6" font-size="17.4" font-weight="bold" font-style="italic">0.22</text>
<text x="787.70" y="616.6" font-size="17.4" font-weight="bold" font-style="italic">0.24</text>
<text x="852.00" y="616.6" font-size="17.4" font-weight="bold" font-style="italic">0.26</text>
<text x="916.30" y="616.6" font-size="17.4" font-weight="bold" font-style="italic">0.28</text>
<text x="980.60" y="616.6" font-size="17.4" font-weight="bold" font-style="italic">0.30</text>
<text transform="translate(433.95,640.5) scale(1.0245,1)" font-size="17.4" font-weight="bold" font-style="italic">Volume Eluted (µL)</text>
<text transform="translate(918.76,272.8) scale(1.0417,1)" font-size="16" font-weight="bold">15 µL/min</text>
<text transform="translate(918.85,315.0) scale(1.0500,1)" font-size="16" font-weight="bold">12 µL/min</text>
<text transform="translate(920.26,354.7) scale(1.0444,1)" font-size="16" font-weight="bold">10 µL/min</text>
<text transform="translate(926.93,397.5) scale(1.0714,1)" font-size="16" font-weight="bold">8 µL/min</text>
<text transform="translate(925.93,435.8) scale(1.0651,1)" font-size="16" font-weight="bold">6 µL/min</text>
<text transform="translate(924.90,473.6) scale(1.0594,1)" font-size="16" font-weight="bold">4 µL/min</text>
<text transform="translate(925.43,520.0) scale(1.0667,1)" font-size="16" font-weight="bold">2 µL/min</text>
<text transform="translate(917.55,564.6) scale(1.0494,1)" font-size="16" font-weight="bold">0.5 µL/min</text>
</svg></body></html>
